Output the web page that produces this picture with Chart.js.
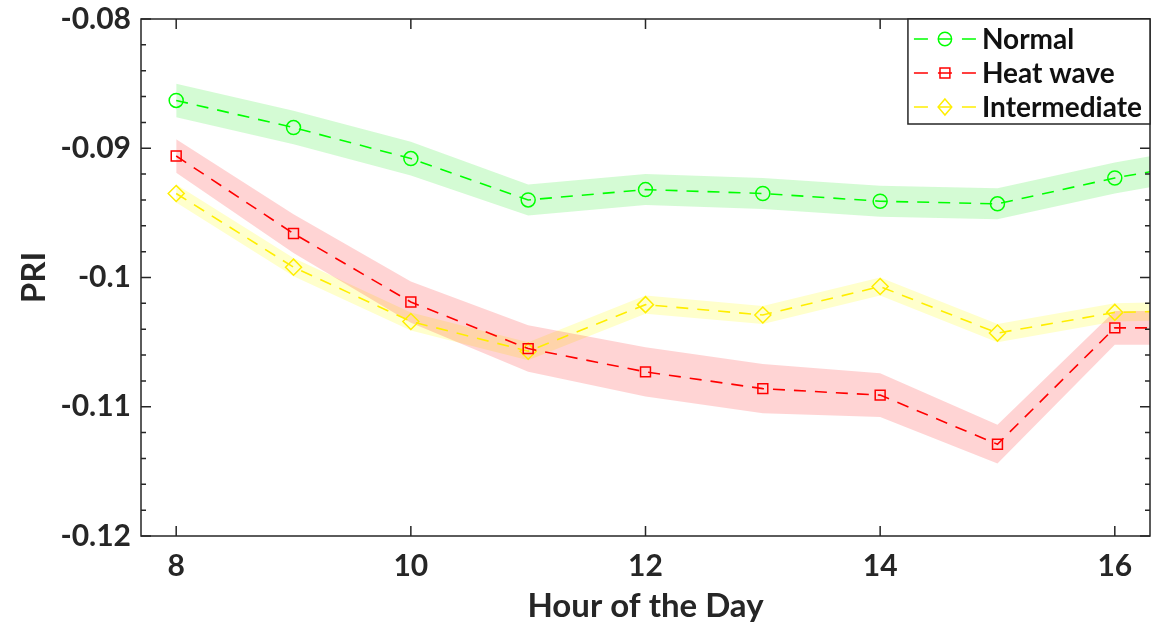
<!DOCTYPE html>
<html>
<head>
<meta charset="utf-8">
<script src="https://cdn.jsdelivr.net/npm/chart.js@4.4.0/dist/chart.umd.min.js"></script>
<style>
  body { margin: 0; background: #fff; }
</style>
</head>
<body>
<canvas id="priChart" width="1162" height="626"></canvas>
<script>
const hours = [8, 9, 10, 11, 12, 13, 14, 15, 16, 17];
const normalPri = [-0.0863, -0.0884, -0.0908, -0.0940, -0.0932, -0.0935, -0.0941, -0.0943, -0.0923, -0.0907];
const normalErr = [0.0013, 0.0013, 0.0013, 0.0012, 0.0012, 0.0012, 0.0012, 0.0012, 0.0012, 0.0012];
const heatPri = [-0.0906, -0.0966, -0.1019, -0.1055, -0.1073, -0.1086, -0.1091, -0.1129, -0.1039, -0.1039];
const heatErr = [0.0013, 0.0015, 0.0016, 0.0018, 0.0019, 0.0019, 0.0017, 0.0015, 0.0013, 0.0013];
const interPri = [-0.0935, -0.0992, -0.1034, -0.1057, -0.1021, -0.1029, -0.1007, -0.1043, -0.1027, -0.1025];
const interErr = [0.0007, 0.0007, 0.0007, 0.0007, 0.0007, 0.0007, 0.0007, 0.0007, 0.0007, 0.0007];

const seriesNames = ['Normal', 'Heat wave', 'Intermediate'];
const xTickVals = [8, 10, 12, 14, 16];
const yTickVals = [-0.12, -0.11, -0.1, -0.09, -0.08];
const yTickLabels = ['-0.12', '-0.11', '-0.1', '-0.09', '-0.08'];

const axisColor = '#262626';
const fontFamily = 'Lato, "Open Sans", sans-serif';

const series = [
  { name: seriesNames[0], vals: normalPri, err: normalErr, color: '#00ff00', band: 'rgba(0,230,0,0.17)', marker: 'circle', r: 7 },
  { name: seriesNames[1], vals: heatPri, err: heatErr, color: '#ff0000', band: 'rgba(255,0,0,0.17)', marker: 'rect', r: 7 },
  { name: seriesNames[2], vals: interPri, err: interErr, color: '#ffee00', band: 'rgba(255,255,0,0.2)', marker: 'rectRot', r: 8 }
];

const pts = (vals, off) => hours.map((h, i) => ({ x: h, y: vals[i] + (off ? off[i] : 0) }));

const datasets = [];
series.forEach(s => {
  datasets.push({
    data: pts(s.vals, s.err),
    borderWidth: 0, pointRadius: 0, fill: false
  });
  datasets.push({
    data: pts(s.vals, s.err.map(e => -e)),
    borderWidth: 0, pointRadius: 0, fill: '-1', backgroundColor: s.band
  });
});
series.forEach(s => {
  datasets.push({
    label: s.name,
    data: pts(s.vals),
    borderColor: s.color,
    borderWidth: 1.6,
    borderDash: [12, 9],
    pointStyle: s.marker,
    pointRadius: s.r,
    pointBorderWidth: 1.5,
    pointBorderColor: s.color,
    pointBackgroundColor: 'rgba(0,0,0,0)',
    fill: false
  });
});

function drawMarker(ctx, style, x, y, r) {
  ctx.beginPath();
  if (style === 'circle') {
    ctx.arc(x, y, r * 0.95, 0, Math.PI * 2);
  } else if (style === 'rect') {
    const h = r * Math.SQRT1_2;
    ctx.rect(x - h, y - h, 2 * h, 2 * h);
  } else {
    ctx.moveTo(x, y - r); ctx.lineTo(x + r * 0.85, y);
    ctx.lineTo(x, y + r); ctx.lineTo(x - r * 0.85, y);
    ctx.closePath();
  }
  ctx.stroke();
}

const boxPlugin = {
  id: 'matlabBox',
  afterDraw(chart) {
    const { ctx, chartArea: a, scales: { x, y } } = chart;
    ctx.save();
    ctx.strokeStyle = axisColor;
    ctx.lineWidth = 1.5;
    ctx.strokeRect(a.left, a.top, a.right - a.left, a.bottom - a.top);

    ctx.beginPath();
    xTickVals.forEach(v => {
      const px = x.getPixelForValue(v);
      ctx.moveTo(px, a.bottom); ctx.lineTo(px, a.bottom - 10);
      ctx.moveTo(px, a.top); ctx.lineTo(px, a.top + 10);
    });
    for (let i = 0; i < yTickVals.length; i++) {
      const py = y.getPixelForValue(yTickVals[i]);
      ctx.moveTo(a.left, py); ctx.lineTo(a.left + 10, py);
      ctx.moveTo(a.right, py); ctx.lineTo(a.right - 10, py);
      if (i < yTickVals.length - 1) {
        const step = (yTickVals[i + 1] - yTickVals[i]) / 5;
        for (let k = 1; k < 5; k++) {
          const my = y.getPixelForValue(yTickVals[i] + k * step);
          ctx.moveTo(a.left, my); ctx.lineTo(a.left + 5, my);
          ctx.moveTo(a.right, my); ctx.lineTo(a.right - 5, my);
        }
      }
    }
    ctx.stroke();

    // legend box, top right inside the axes
    ctx.font = 'bold 28px ' + fontFamily;
    const maxW = Math.max(...series.map(s => ctx.measureText(s.name).width));
    const boxW = 74 + maxW + 8;
    const boxL = a.right - boxW;
    const boxT = a.top;
    const rowH = 34;
    const boxH = rowH * series.length + 3;
    ctx.fillStyle = '#fff';
    ctx.fillRect(boxL, boxT, boxW, boxH);
    ctx.strokeStyle = axisColor;
    ctx.lineWidth = 1.5;
    ctx.strokeRect(boxL, boxT, boxW, boxH);
    series.forEach((s, i) => {
      const cy = boxT + 20 + i * rowH;
      ctx.strokeStyle = s.color;
      ctx.lineWidth = 1.6;
      ctx.setLineDash([14, 10]);
      ctx.beginPath();
      ctx.moveTo(boxL + 6, cy); ctx.lineTo(boxL + 69, cy);
      ctx.stroke();
      ctx.setLineDash([]);
      ctx.lineWidth = 1.5;
      drawMarker(ctx, s.marker, boxL + 37, cy, s.r);
      ctx.fillStyle = '#111';
      ctx.textBaseline = 'middle';
      ctx.textAlign = 'left';
      ctx.fillText(s.name, boxL + 74, cy + 1);
    });
    ctx.restore();
  }
};

new Chart('priChart', {
  type: 'line',
  data: { datasets },
  options: {
    responsive: false,
    animation: false,
    layout: { padding: { top: 19, right: 12, left: 0, bottom: 0 } },
    plugins: {
      legend: { display: false },
      tooltip: { enabled: false },
      filler: { drawTime: 'beforeDatasetsDraw' }
    },
    scales: {
      x: {
        type: 'linear',
        min: 7.7,
        max: 16.3,
        afterBuildTicks: s => { s.ticks = xTickVals.map(v => ({ value: v })); },
        afterFit: s => { s.height = 90; s.paddingLeft = 0; s.paddingRight = 0; },
        grid: { display: false, drawTicks: false },
        border: { display: false },
        ticks: {
          padding: 12,
          color: axisColor,
          font: { family: fontFamily, size: 30, weight: 'bold' }
        },
        title: {
          display: true,
          text: 'Hour of the Day',
          color: axisColor,
          padding: { top: 0, bottom: 0 },
          font: { family: fontFamily, size: 33, weight: 'bold' }
        }
      },
      y: {
        type: 'linear',
        min: -0.12,
        max: -0.08,
        afterBuildTicks: s => { s.ticks = yTickVals.map(v => ({ value: v })); },
        afterFit: s => { s.width = 141; s.paddingTop = 0; s.paddingBottom = 0; },
        grid: { display: false, drawTicks: false },
        border: { display: false },
        ticks: {
          padding: 10,
          color: axisColor,
          font: { family: fontFamily, size: 30, weight: 'bold' },
          callback: (v) => {
            const i = yTickVals.findIndex(t => Math.abs(t - v) < 1e-9);
            return i >= 0 ? yTickLabels[i] : '';
          }
        },
        title: {
          display: true,
          text: 'PRI',
          color: axisColor,
          padding: { top: 15, bottom: 0 },
          font: { family: fontFamily, size: 33, weight: 'bold' }
        }
      }
    }
  },
  plugins: [boxPlugin]
});
</script>
</body>
</html>
